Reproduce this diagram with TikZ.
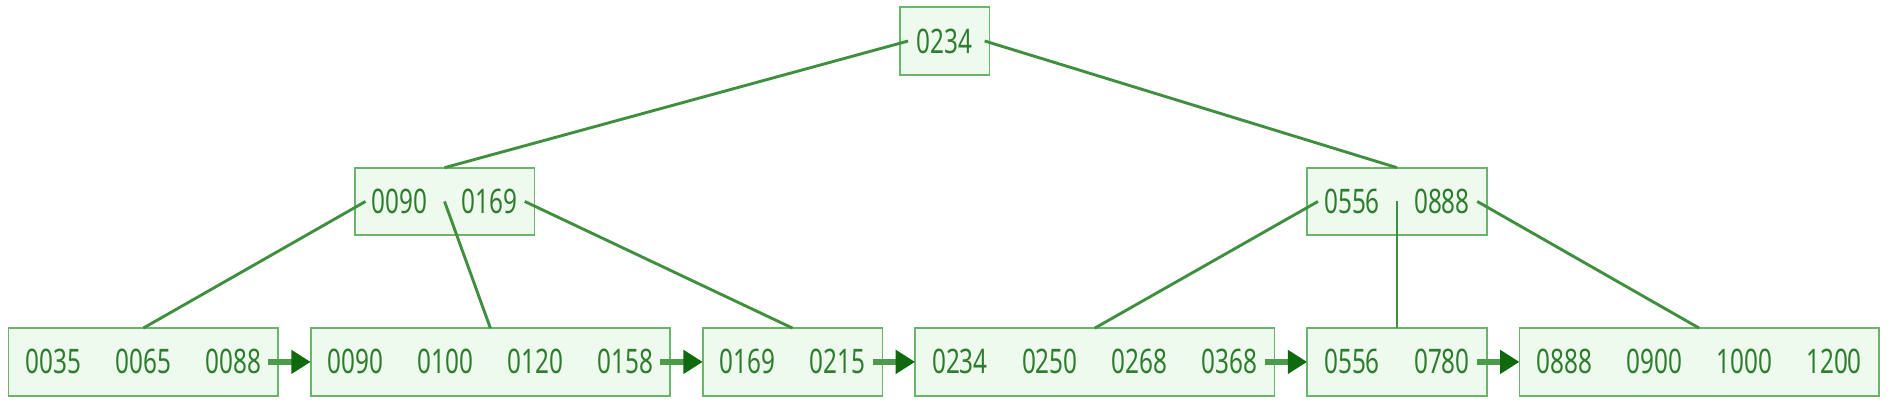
\documentclass[tikz,border=0pt]{standalone}
\usepackage{fontspec}
\newfontfamily\keyfont{Noto Sans}[FakeStretch=0.72]
\usetikzlibrary{arrows.meta, positioning}

\definecolor{boxfill}{HTML}{EEFAEE}
\definecolor{boxline}{HTML}{6CB46C}
\definecolor{treeline}{HTML}{3F8F3F}
\definecolor{keytext}{HTML}{2E7D2E}
\definecolor{linkshaft}{HTML}{4C9A4C}
\definecolor{linkhead}{HTML}{0F6A0F}

\newcommand{\keycell}[1]{\makebox[74.5pt]{#1}}

\begin{document}
\begin{tikzpicture}[
            x = 1pt, y = -1pt, % pixel grid, y pointing down
            node distance = 27pt, % gap between leaves
            semithick % line style
        ]

        \tikzstyle{page}=[
            draw = boxline,
            line width = 1.5pt,
            fill = boxfill,
            text = keytext,
            minimum height = 56pt,
            inner sep = 0pt,
            outer sep = 0pt,
            font = \keyfont\fontsize{28}{30}\selectfont
        ]
        \tikzstyle{edge}=[draw = treeline, line width = 2.4pt]
        \tikzstyle{link}=[
            draw = linkshaft,
            line width = 4.5pt,
            -{Triangle[length = 16pt, width = 19pt, color = linkhead]}
        ]

        \useasboundingbox (0,0) rectangle (1570,339);

        % root and inner pages
        \node[page] (root) at (783,34) {\keycell{0234}};
        \node[page] (l2a) at (368.5,167) {\keycell{0090}\keycell{0169}};
        \node[page] (l2b) at (1158,167) {\keycell{0556}\keycell{0888}};

        % leaf pages
        \node[page, anchor = west] (leaf1) at (7,300) {\keycell{0035}\keycell{0065}\keycell{0088}};
        \node[page] (leaf2) [right = of leaf1] {\keycell{0090}\keycell{0100}\keycell{0120}\keycell{0158}};
        \node[page] (leaf3) [right = of leaf2] {\keycell{0169}\keycell{0215}};
        \node[page] (leaf4) [right = of leaf3] {\keycell{0234}\keycell{0250}\keycell{0268}\keycell{0368}};
        \node[page] (leaf5) [right = of leaf4] {\keycell{0556}\keycell{0780}};
        \node[page] (leaf6) [right = of leaf5] {\keycell{0888}\keycell{0900}\keycell{1000}\keycell{1200}};

        % child pointers
        \draw[edge] ([xshift = 7pt]root.west) -- (l2a.north);
        \draw[edge] ([xshift = -4pt]root.east) -- (l2b.north);
        \draw[edge] ([xshift = 9pt]l2a.west) -- (leaf1.north);
        \draw[edge] (l2a.center) -- (leaf2.north);
        \draw[edge] ([xshift = -8pt]l2a.east) -- (leaf3.north);
        \draw[edge] ([xshift = 9pt]l2b.west) -- (leaf4.north);
        \draw[edge] (l2b.center) -- (leaf5.north);
        \draw[edge] ([xshift = -8pt]l2b.east) -- (leaf6.north);

        % leaf chain
        \draw[link] ([xshift = -8pt]leaf1.east) -- (leaf2.west);
        \draw[link] ([xshift = -8pt]leaf2.east) -- (leaf3.west);
        \draw[link] ([xshift = -8pt]leaf3.east) -- (leaf4.west);
        \draw[link] ([xshift = -8pt]leaf4.east) -- (leaf5.west);
        \draw[link] ([xshift = -8pt]leaf5.east) -- (leaf6.west);

    \end{tikzpicture}
\end{document}
